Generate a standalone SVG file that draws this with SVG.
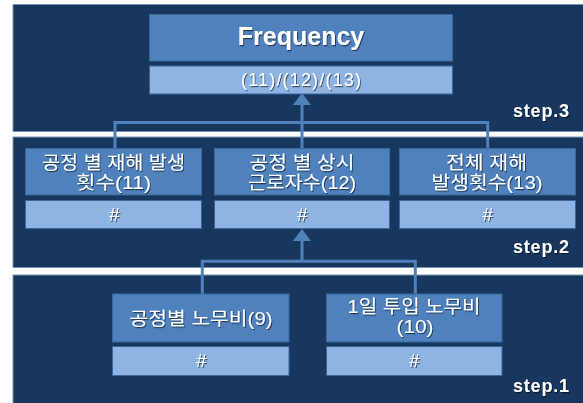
<svg xmlns="http://www.w3.org/2000/svg" width="583" height="403" viewBox="0 0 583 403">
<defs>
<style>
.panel{fill:#17375E;stroke:#7F93AD;stroke-width:1}
.box{fill:#4F81BD;stroke:#3A6698;stroke-width:1}
.sub{fill:#8EB4E3;stroke:#3A6698;stroke-width:1}
.conn{fill:none;stroke:#4F81BD;stroke-width:3}
text{font-family:"Liberation Sans","Noto Sans CJK KR",sans-serif;fill:#ffffff;text-anchor:middle;filter:url(#sh)}
.kr{font-size:18px}
.title{font-size:25px;font-weight:bold}
.formula{font-size:18px}
.hash{font-size:19px;font-style:italic}
.step{font-size:18px;font-weight:bold;text-anchor:start}
</style>
<filter id="sh" x="-10%" y="-30%" width="130%" height="170%">
<feDropShadow dx="1" dy="1.2" stdDeviation="0.7" flood-color="#000000" flood-opacity="0.55"/>
</filter>
<marker id="ah" markerUnits="userSpaceOnUse" markerWidth="12" markerHeight="18" viewBox="0 0 12 18" refX="0" refY="9" orient="auto">
<path d="M0,0 L12,9 L0,18 z" fill="#4F81BD"/>
</marker>
</defs>
<rect width="583" height="403" fill="#ffffff"/>
<g id="panels">
<rect class="panel" x="13" y="4.5" width="580" height="127"/>
<rect class="panel" x="13" y="137" width="580" height="130.5"/>
<rect class="panel" x="13" y="275" width="580" height="140"/>
</g>
<g id="connectors">
<path class="conn" d="M115,148 V122.5 H487.7 V148"/>
<path class="conn" d="M302,148 V105" marker-end="url(#ah)"/>
<path class="conn" d="M202.3,294 V261.3 H415.3 V294"/>
<path class="conn" d="M302,261.3 V241" marker-end="url(#ah)"/>
</g>
<g id="frequency">
<rect class="box" x="149.5" y="14.5" width="303" height="46.5"/>
<rect class="sub" x="149.5" y="66" width="303" height="28"/>
<text class="title" x="301" y="45">Frequency</text>
<text class="formula" x="301" y="86" textLength="120" lengthAdjust="spacing">(11)/(12)/(13)</text>
</g>
<g id="node11">
<rect class="box" x="25.5" y="148.5" width="176" height="46.5"/>
<rect class="sub" x="25.5" y="200.5" width="176" height="28"/>
<text class="kr" x="113.5" y="168.5" textLength="143" lengthAdjust="spacingAndGlyphs">공정 별 재해 발생</text>
<text class="kr" x="113.5" y="188.5" textLength="75" lengthAdjust="spacingAndGlyphs">횟수(11)</text>
<text class="hash" x="114" y="221">#</text>
</g>
<g id="node12">
<rect class="box" x="214.5" y="148.5" width="175" height="46.5"/>
<rect class="sub" x="214.5" y="200.5" width="175" height="28"/>
<text class="kr" x="302" y="168.5" textLength="105" lengthAdjust="spacingAndGlyphs">공정 별 상시</text>
<text class="kr" x="302" y="188.5" textLength="108" lengthAdjust="spacingAndGlyphs">근로자수(12)</text>
<text class="hash" x="302" y="221">#</text>
</g>
<g id="node13">
<rect class="box" x="399.5" y="148.5" width="176" height="46.5"/>
<rect class="sub" x="399.5" y="200.5" width="176" height="28"/>
<text class="kr" x="486.5" y="168.5" textLength="81" lengthAdjust="spacingAndGlyphs">전체 재해</text>
<text class="kr" x="487" y="188.5" textLength="111" lengthAdjust="spacingAndGlyphs">발생횟수(13)</text>
<text class="hash" x="487.5" y="221">#</text>
</g>
<g id="node9">
<rect class="box" x="112.5" y="294" width="176.5" height="48"/>
<rect class="sub" x="112.5" y="346.5" width="176.5" height="29"/>
<text class="kr" x="201" y="325" textLength="143" lengthAdjust="spacingAndGlyphs">공정별 노무비(9)</text>
<text class="hash" x="201" y="367">#</text>
</g>
<g id="node10">
<rect class="box" x="326.5" y="294" width="175.5" height="48"/>
<rect class="sub" x="326.5" y="346.5" width="175.5" height="29"/>
<text class="kr" x="414" y="313" textLength="133" lengthAdjust="spacingAndGlyphs">1일 투입 노무비</text>
<text class="kr" x="415" y="333" textLength="37" lengthAdjust="spacingAndGlyphs">(10)</text>
<text class="hash" x="414" y="367">#</text>
</g>
<g id="step-labels">
<text class="step" x="513" y="116.7" textLength="56" lengthAdjust="spacing">step.3</text>
<text class="step" x="513" y="253.3" textLength="56" lengthAdjust="spacing">step.2</text>
<text class="step" x="513" y="391.7" textLength="56" lengthAdjust="spacing">step.1</text>
</g>
</svg>
